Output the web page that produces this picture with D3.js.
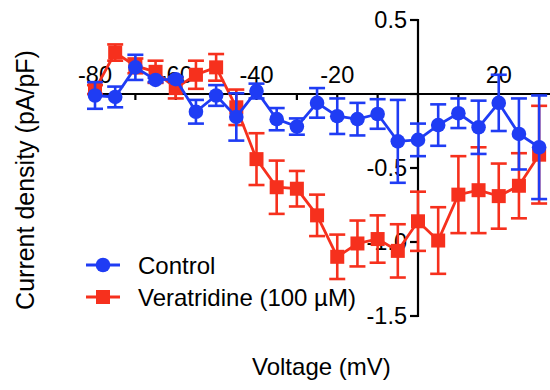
<!DOCTYPE html>
<html>
<head>
<meta charset="utf-8">
<script src="https://cdn.jsdelivr.net/npm/d3@7"></script>
<style>
  html, body { margin: 0; padding: 0; background: #fff; }
  svg { display: block; font-family: "Liberation Sans", Arial, Helvetica, sans-serif; }
</style>
</head>
<body>
<svg id="chart" width="550" height="390"></svg>
<script>
// Test potentials (mV)
const voltages = [-80, -75, -70, -65, -60, -55, -50, -45, -40, -35, -30, -25,
                  -20, -15, -10, -5, 0, 5, 10, 15, 20, 25, 30];

// Mean current density (pA/pF) and SEM, control cells
const controlMean = [-0.01, -0.02, 0.18, 0.095, 0.10, -0.12, -0.01, -0.155, 0.02, -0.17, -0.22, -0.06,
                     -0.15, -0.17, -0.135, -0.32, -0.31, -0.21, -0.13, -0.225, -0.06, -0.27, -0.36];
const controlSem  = [0.09, 0.07, 0.085, 0.015, 0.015, 0.08, 0.07, 0.16, 0.05, 0.075, 0.055, 0.10,
                     0.12, 0.11, 0.10, 0.28, 0.11, 0.14, 0.10, 0.18, 0.19, 0.24, 0.35];

// Mean current density (pA/pF) and SEM, veratridine 100 µM
const veraMean = [0.03, 0.28, 0.19, 0.15, 0.04, 0.13, 0.18, -0.09, -0.44, -0.63, -0.64, -0.82,
                  -1.10, -1.01, -0.98, -1.06, -0.86, -0.99, -0.68, -0.65, -0.69, -0.62, -0.41];
const veraSem  = [0.03, 0.055, 0.05, 0.075, 0.07, 0.095, 0.09, 0.12, 0.175, 0.18, 0.12, 0.14,
                  0.15, 0.155, 0.16, 0.18, 0.20, 0.225, 0.26, 0.29, 0.22, 0.22, 0.33];

// Axis ticks
const xTickValues  = [-80, -70, -60, -50, -40, -30, -20, -10, 0, 10, 20, 30];
const xTickLabels  = [-80, -60, -40, -20, 20];
const yTickValues  = [0.5, 0, -0.5, -1.0, -1.5];
const yTickLabels  = ["0.5", "-0.5", "-1.0", "-1.5"];
const yTickLabelValues = [0.5, -0.5, -1.0, -1.5];

const seriesNames = ["Control", "Veratridine (100 µM)"];
const blue = "#1f3cf4";
const red  = "#f6301d";

const svg = d3.select("#chart");

const x = d3.scaleLinear().domain([-80, 0]).range([95, 418]);
const y = d3.scaleLinear().domain([0.5, -1.5]).range([20, 316]);

const tickFont = 23.5;
const textFont = 24;

// ---- axes (drawn first; data sits on top) ----
const axes = svg.append("g").attr("stroke", "#000").attr("stroke-width", 2.2);

// x axis through y = 0
axes.append("line")
  .attr("x1", x(-80)).attr("x2", x(40))
  .attr("y1", y(0)).attr("y2", y(0));
axes.selectAll(".xt").data(xTickValues).join("line")
  .attr("x1", d => x(d)).attr("x2", d => x(d))
  .attr("y1", y(0)).attr("y2", y(0) + 6);

// y axis through x = 0
axes.append("line")
  .attr("x1", x(0)).attr("x2", x(0))
  .attr("y1", y(0.5) - 1).attr("y2", y(-1.5) + 1);
axes.selectAll(".yt").data(yTickValues).join("line")
  .attr("x1", x(0) - 8).attr("x2", x(0))
  .attr("y1", d => y(d)).attr("y2", d => y(d));

svg.append("g").selectAll("text").data(xTickLabels).join("text")
  .attr("x", d => x(d)).attr("y", y(0) - 11)
  .attr("text-anchor", "middle")
  .attr("font-size", tickFont)
  .attr("fill", "#000")
  .text(d => String(d));

svg.append("g").selectAll("text").data(yTickLabelValues).join("text")
  .attr("x", x(0) - 11).attr("y", d => y(d))
  .attr("dy", "0.35em")
  .attr("text-anchor", "end")
  .attr("font-size", tickFont)
  .attr("fill", "#000")
  .text((d, i) => yTickLabels[i]);

// ---- series ----
function drawSeries(means, sems, color, shape) {
  const g = svg.append("g");
  const pts = voltages.map((v, i) => ({ v, m: means[i], s: sems[i] }));
  const cap = 8;

  const eb = g.append("g").attr("stroke", color).attr("stroke-width", 2.6);
  pts.forEach(p => {
    eb.append("line")
      .attr("x1", x(p.v)).attr("x2", x(p.v))
      .attr("y1", y(p.m + p.s)).attr("y2", y(p.m - p.s));
    eb.append("line")
      .attr("x1", x(p.v) - cap).attr("x2", x(p.v) + cap)
      .attr("y1", y(p.m + p.s)).attr("y2", y(p.m + p.s));
    eb.append("line")
      .attr("x1", x(p.v) - cap).attr("x2", x(p.v) + cap)
      .attr("y1", y(p.m - p.s)).attr("y2", y(p.m - p.s));
  });

  g.append("path")
    .datum(pts)
    .attr("fill", "none")
    .attr("stroke", color)
    .attr("stroke-width", 2.8)
    .attr("d", d3.line().x(p => x(p.v)).y(p => y(p.m)));

  if (shape === "circle") {
    g.selectAll("circle").data(pts).join("circle")
      .attr("cx", p => x(p.v)).attr("cy", p => y(p.m))
      .attr("r", 7.3).attr("fill", color);
  } else {
    g.selectAll("rect").data(pts).join("rect")
      .attr("x", p => x(p.v) - 7).attr("y", p => y(p.m) - 7)
      .attr("width", 14).attr("height", 14).attr("fill", color);
  }
}

drawSeries(veraMean, veraSem, red, "square");
drawSeries(controlMean, controlSem, blue, "circle");

// ---- legend ----
const legend = svg.append("g");
const legendRows = [
  { name: seriesNames[0], color: blue, shape: "circle", y: 265 },
  { name: seriesNames[1], color: red, shape: "square", y: 297 }
];
legendRows.forEach(r => {
  legend.append("line")
    .attr("x1", 86).attr("x2", 120)
    .attr("y1", r.y).attr("y2", r.y)
    .attr("stroke", r.color).attr("stroke-width", 3);
  if (r.shape === "circle") {
    legend.append("circle").attr("cx", 103).attr("cy", r.y).attr("r", 7.3).attr("fill", r.color);
  } else {
    legend.append("rect").attr("x", 96).attr("y", r.y - 7).attr("width", 14).attr("height", 14).attr("fill", r.color);
  }
  legend.append("text")
    .attr("x", 138).attr("y", r.y).attr("dy", "0.36em")
    .attr("font-size", textFont).attr("fill", "#000")
    .text(r.name);
});

// ---- axis titles ----
svg.append("text")
  .attr("x", 252).attr("y", 375)
  .attr("font-size", textFont).attr("fill", "#000")
  .text("Voltage (mV)");

svg.append("text")
  .attr("transform", "translate(34,180) rotate(-90)")
  .attr("text-anchor", "middle")
  .attr("font-size", 25).attr("fill", "#000")
  .text("Current density (pA/pF)");
</script>
</body>
</html>
